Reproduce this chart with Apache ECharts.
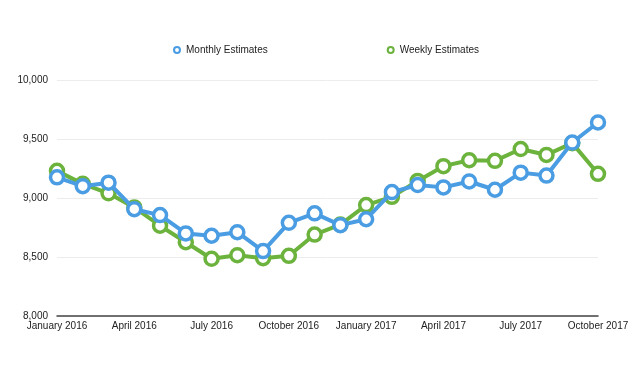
<!DOCTYPE html>
<html>
<head>
<meta charset="utf-8">
<script src="https://cdn.jsdelivr.net/npm/echarts@6/dist/echarts.min.js"></script>
<style>html,body{margin:0;padding:0;background:#fff;}#c{width:640px;height:368px;}</style>
</head>
<body>
<div id="c"></div>
<script>
var categories = ["January 2016","February 2016","March 2016","April 2016","May 2016","June 2016","July 2016","August 2016","September 2016","October 2016","November 2016","December 2016","January 2017","February 2017","March 2017","April 2017","May 2017","June 2017","July 2017","August 2017","September 2017","October 2017"];
var monthly = [9175,9100,9130,8905,8855,8700,8680,8710,8550,8790,8870,8770,8820,9050,9110,9090,9140,9070,9215,9190,9470,9640];
var weekly = [9230,9120,9040,8920,8765,8625,8485,8515,8490,8510,8690,8775,8940,9010,9145,9270,9320,9315,9415,9365,9465,9205];
var yTicks = [8000,8500,9000,9500,10000];

var blue = '#4a9de3', green = '#6cb33e';
var font = 'Liberation Sans, Helvetica, Arial, sans-serif';
var ring = 'path://M5,0A5,5 0 1,1 5,10A5,5 0 1,1 5,0Z M5,2.6A2.4,2.4 0 1,0 5,7.4A2.4,2.4 0 1,0 5,2.6Z';
var chart = echarts.init(document.getElementById('c'));
function ser(name, data, color, z) {
  return {
    name: name, type: 'line', data: data, z: z,
    symbol: 'circle', symbolSize: 13,
    lineStyle: {color: color, width: 4},
    itemStyle: {color: '#fff', borderColor: color, borderWidth: 3.5},
    emphasis: {disabled: true}
  };
}
chart.setOption({
  animation: false,
  textStyle: {fontFamily: font},
  legend: {
    top: 40, left: 168, itemGap: 119, itemWidth: 8, itemHeight: 8,
    textStyle: {fontSize: 10, color: '#222', fontFamily: font},
    data: [
      {name: 'Monthly Estimates', icon: ring, itemStyle: {color: blue, borderWidth: 0}},
      {name: 'Weekly Estimates', icon: ring, itemStyle: {color: green, borderWidth: 0}}
    ]
  },
  grid: {left: 57, right: 42, top: 80, bottom: 52},
  xAxis: {
    type: 'category', data: categories, boundaryGap: false,
    axisLine: {lineStyle: {color: '#444', width: 1.5}},
    axisTick: {show: false},
    axisLabel: {interval: 2, fontSize: 10, color: '#222', margin: 5, fontFamily: font},
    splitLine: {show: false}
  },
  yAxis: {
    type: 'value', min: yTicks[0], max: yTicks[yTicks.length-1], interval: 500,
    axisLine: {show: false}, axisTick: {show: false},
    axisLabel: {fontSize: 10, color: '#222', margin: 9, fontFamily: font,
      formatter: function(v){ return v.toLocaleString('en-US'); }},
    splitLine: {lineStyle: {color: '#ececec', width: 1}}
  },
  series: [ser('Monthly Estimates', monthly, blue, 3), ser('Weekly Estimates', weekly, green, 2)]
});
</script>
</body>
</html>
